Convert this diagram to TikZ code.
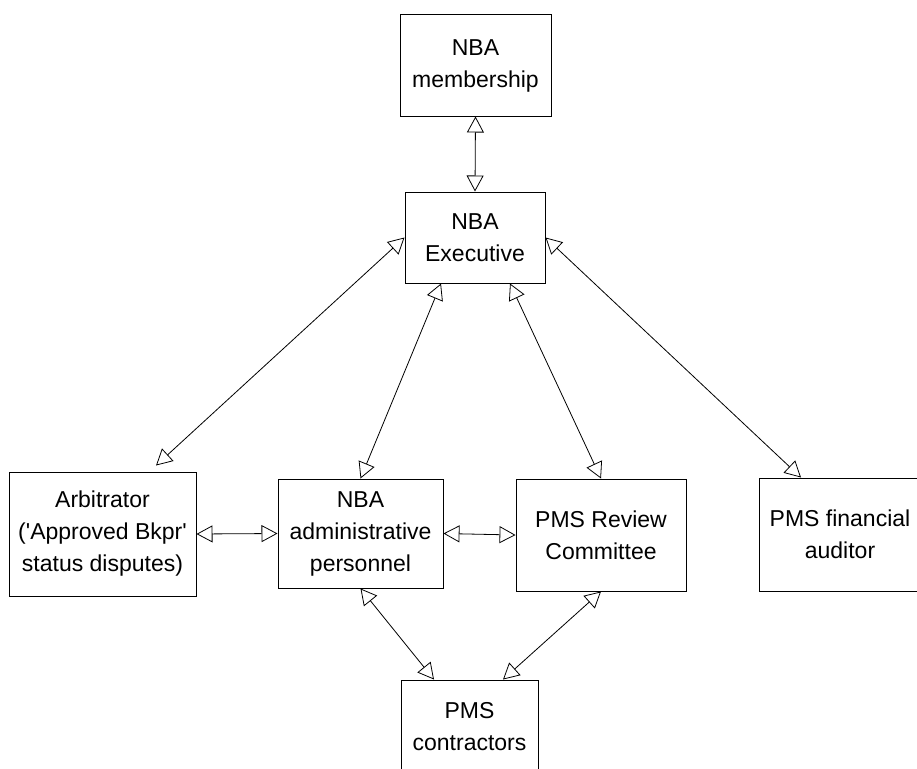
\documentclass[tikz,border=0pt]{standalone}
\usepackage{fontspec}
\setmainfont{Liberation Sans}
\usepackage{tikz}
\usetikzlibrary{arrows.meta,calc}
\tikzstyle{box} = [rectangle, draw=black, line width=1pt, align=center, inner sep=0pt, font=\fontsize{23}{32}\selectfont]
\tikzstyle{arrow} = [line width=0.8pt, {Triangle[open,length=16pt,width=17pt]}-{Triangle[open,length=16pt,width=17pt]}]

\begin{document}
\begin{tikzpicture}[x=1pt, y=-1pt]
    \clip (0,0) rectangle (917,768);

    % Top
    \node[box, minimum width=151, minimum height=101] (memb) at (475.5, 65.5) {NBA\\membership};
    \node[box, minimum width=140, minimum height=91] (exec) at (475, 237.5) {NBA\\Executive};
    \draw[arrow] (memb.south) -- (exec.north);

    % Middle row
    \node[box, minimum width=187, minimum height=124] (arb) at (102.5, 534) {Arbitrator\\(\textquotesingle Approved Bkpr\textquotesingle\\status disputes)};
    \node[box, minimum width=165, minimum height=109] (admin) at (360.5, 533.5) {NBA\\administrative\\personnel};
    \node[box, minimum width=170, minimum height=112] (review) at (601, 535) {PMS Review\\Committee};
    \node[box, minimum width=162, minimum height=113] (aud) at (840, 534.5) {PMS financial\\auditor};

    \draw[arrow] (exec.west) -- ($(arb.north)+(53.5,-6)$);
    \draw[arrow] ($(exec.south)+(-34,0)$) -- (admin.north);
    \draw[arrow] ($(exec.south)+(35,0)$) -- (review.north);
    \draw[arrow] (exec.east) -- ($(aud.north)+(-39,0)$);
    \draw[arrow] (arb.east) -- (admin.west);
    \draw[arrow] (admin.east) -- (review.west);

    % Bottom
    \node[box, minimum width=137, minimum height=94] (contr) at (469.5, 727) {PMS\\contractors};
    \draw[arrow] (admin.south) -- ($(contr.north)+(-35.5,0)$);
    \draw[arrow] (review.south) -- ($(contr.north)+(33.5,0)$);
\end{tikzpicture}
\end{document}
